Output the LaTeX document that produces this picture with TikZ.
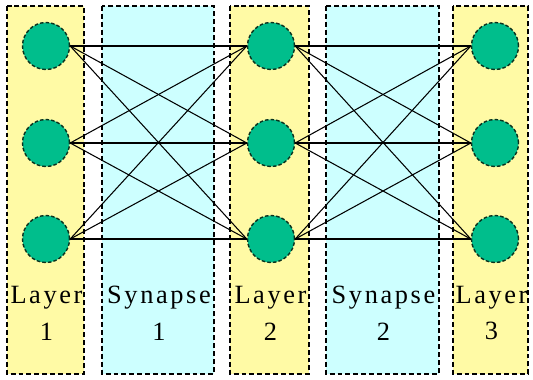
\documentclass[tikz,border=0pt]{standalone}
\usepackage{fontspec}
\setmainfont{Liberation Serif}
\newfontfamily\lblfont[LetterSpace=10]{Liberation Serif}

\definecolor{layerfill}{RGB}{255,250,165}
\definecolor{synfill}{RGB}{205,255,255}
\definecolor{neuronfill}{RGB}{0,190,140}
\definecolor{neuronedge}{RGB}{10,50,30}

\begin{document}
\begin{tikzpicture}[x=0.02cm, y=-0.02cm,
  layerbox/.style={fill=layerfill, draw=black, line width=0.75pt, dash pattern=on 2.8pt off 1.7pt},
  synbox/.style={fill=synfill, draw=black, line width=0.75pt, dash pattern=on 2.8pt off 1.7pt},
  neuron/.style={circle, minimum size=0.94cm, inner sep=0pt, fill=neuronfill, draw=neuronedge, line width=0.8pt, dash pattern=on 2pt off 1.2pt},
  synapse/.style={black, line width=0.6pt},
  lbl/.style={align=center, inner sep=0pt, font=\lblfont\fontsize{15}{21}\selectfont}]

  \useasboundingbox (0,0) rectangle (533,379);

  % Schichten und Synapsen
  \draw[layerbox] (7,6) rectangle (84,374);
  \draw[synbox]   (102,6) rectangle (214,374);
  \draw[layerbox] (230,6) rectangle (309,374);
  \draw[synbox]   (326,6) rectangle (439,374);
  \draw[layerbox] (453,6) rectangle (528,374);

  % Neuronen
  \foreach \l/\x in {1/46, 2/271, 3/495}
    \foreach \r/\y in {1/46, 2/143, 3/239}
      \node[neuron] (n\l\r) at (\x,\y) {};

  % Verbindungen
  \foreach \a/\b in {1/2, 2/3}
    \foreach \i in {1,2,3}
      \foreach \j in {1,2,3}
        \draw[synapse] (n\a\i.east) -- (n\b\j.west);

  \node[lbl] (t1) at (46.5,313)  {Layer\\1};
  \node[lbl] (t2) at (159,313)   {Synapse\\1};
  \node[lbl] (t3) at (270.5,313) {Layer\\2};
  \node[lbl] (t4) at (383.5,313) {Synapse\\2};
  \node[lbl] (t5) at (491.5,313) {Layer\\3};
\end{tikzpicture}
\end{document}
